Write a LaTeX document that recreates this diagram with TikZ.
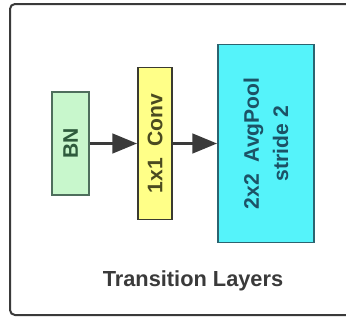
\documentclass[tikz,border=0pt]{standalone}
\usepackage{fontspec}
\setmainfont{Liberation Sans}
\usetikzlibrary{arrows.meta}
\definecolor{bnfill}{HTML}{C8F7CC}
\definecolor{bnline}{HTML}{4E6E5C}
\definecolor{bntext}{HTML}{2E5A3C}
\definecolor{convfill}{HTML}{FFFF88}
\definecolor{convline}{HTML}{3A3A30}
\definecolor{convtext}{HTML}{4A4A20}
\definecolor{poolfill}{HTML}{55F3FA}
\definecolor{poolline}{HTML}{2C6470}
\definecolor{pooltext}{HTML}{1C5266}
\definecolor{framegray}{HTML}{3A3A3A}
\tikzset{
	layerbox/.style={draw, line width=1.5pt, rotate=90, align=center, inner sep=0pt,
		font=\bfseries\fontsize{18}{25}\selectfont},
	flow/.style={draw=framegray, line width=0.1cm, -{Triangle[length=0.74cm,width=0.58cm]}}
}

\begin{document}
\begin{tikzpicture}
		\useasboundingbox (0,0) rectangle (10.38,9.6);
		\clip (0,0) rectangle (10.38,9.6);

		\draw[framegray, line width=0.06cm, rounded corners=0.15cm] (0.3,0.15) rectangle (10.9,9.48);

		\node[layerbox, fill=bnfill, draw=bnline, text=bntext,
			minimum width=3.09cm, minimum height=1.11cm] (bn) at (2.115, 5.295) {BN};
		\node[layerbox, fill=convfill, draw=convline, text=convtext,
			minimum width=4.56cm, minimum height=1.02cm] (conv) at (4.65, 5.295) {1x1\ \ Conv};
		\node[layerbox, fill=poolfill, draw=poolline, text=pooltext,
			minimum width=5.94cm, minimum height=2.88cm] (pool) at (7.98, 5.295) {2x2\ \ AvgPool\\stride 2};

		\draw[flow] (bn.south) -- (conv.north);
		\draw[flow] (conv.south) -- (pool.north);

		\node[text=framegray, font=\bfseries\fontsize{18.6}{22}\selectfont] (title) at (5.79, 1.17) {Transition Layers};
	\end{tikzpicture}
\end{document}
